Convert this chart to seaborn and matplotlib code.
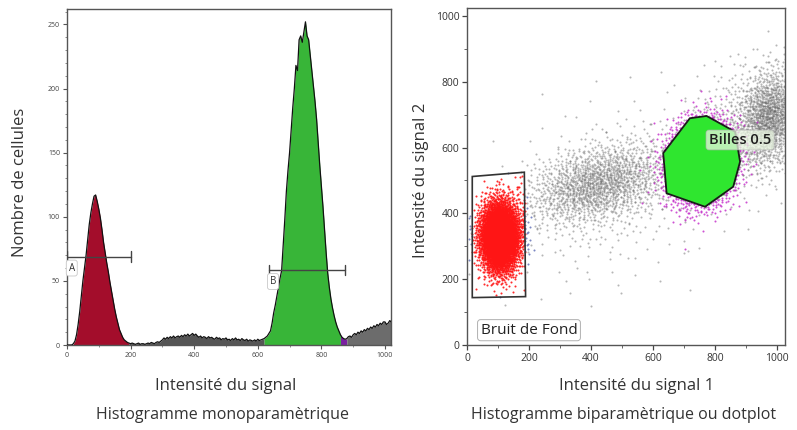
import numpy as np
import pandas as pd
import matplotlib
matplotlib.use("Agg")
import matplotlib.pyplot as plt
from matplotlib.patches import Polygon
from matplotlib.path import Path
from matplotlib.ticker import MultipleLocator
import seaborn as sns

# ---------------- data: histogram (left panel) ----------------
HIST_X = list(range(0, 1025, 5))
HIST_COUNTS = [
    # 0-195
    0, 0, 0, 0, 1, 3, 8, 16, 26, 38, 50, 60, 70, 82, 94, 103, 110, 116, 117, 112,
    106, 99, 90, 80, 72, 64, 57, 49, 42, 35, 28, 22, 17, 12, 9, 6, 4, 3, 2, 1.5,
    # 200-295
    1, 1.5, 1, 0.5, 1, 1.5, 0.5, 1, 1, 0.5, 1, 1.5, 1, 2, 1.5, 1, 2, 2.5, 2, 3,
    # 300-395
    4, 5.5, 4.5, 6, 5, 6.5, 5.5, 7, 5.5, 6.5, 7, 6, 7.5, 6.5, 8, 7, 8.5, 7, 8, 9,
    # 400-495
    7.5, 8.5, 7, 6, 7, 5.5, 6.5, 6, 5, 6.5, 5.5, 6, 5, 4.5, 6, 5, 5.5, 4, 5, 4.5,
    # 500-595
    5.5, 4, 4.5, 3.5, 5, 4, 5.5, 4, 4.5, 3.5, 5, 4, 3.5, 4.5, 3, 4, 3.5, 3, 4, 3,
    # 600-695
    4.5, 3.5, 4, 4.5, 5, 6, 7, 9, 11, 17, 25, 31, 38, 45, 52, 58, 78, 98, 120, 136,
    # 700-795
    150, 168, 185, 200, 218, 214, 238, 241, 236, 244, 252, 241, 238, 226, 214, 202, 190, 176, 158, 140,
    # 800-895
    124, 108, 90, 72, 56, 45, 36, 29, 23, 18, 14, 11, 8, 6, 5, 4.5, 5, 6.5, 7, 6,
    # 900-995
    8, 9, 8, 10, 9, 11, 10, 12, 11, 13, 12, 14, 13, 15, 14, 16, 15, 17, 16, 18,
    # 1000-1020
    18, 16, 17, 19, 18,
]
HIST_REGIONS = ["A", "bas", "B", "hors_B", "haut"]
HIST_REGION_LO = [20, 195, 620, 860, 880]
HIST_REGION_HI = [195, 620, 860, 880, 1020]
GATE_LABELS = ["A", "B"]
GATE_LO = [0, 636]
GATE_HI = [200, 874]
GATE_LEVEL = [69, 58.5]

# ---------------- data: dotplot (right panel) ----------------
POP_NAMES = ["bruit", "debris", "debris_diffus", "billes", "haut_droite", "intermediaire"]
POP_CX = [105, 420, 520, 755, 975, 860]
POP_CY = [330, 490, 470, 555, 690, 650]
POP_SX = [31, 115, 200, 52, 50, 90]
POP_SY = [52, 62, 150, 60, 75, 100]
POP_RHO = [0.0, 0.35, 0.4, 0.1, 0.2, 0.3]
POP_N = [5000, 1500, 300, 4000, 1300, 400]

GATE_BRUIT_X = [17, 185, 189, 17]
GATE_BRUIT_Y = [512, 525, 147, 144]
GATE_BILLES_X = [633, 719, 773, 865, 881, 859, 768, 644]
GATE_BILLES_Y = [583, 689, 696, 648, 557, 481, 420, 461]

# ---------------- style ----------------
sns.set_theme(style="ticks")
plt.rcParams["font.family"] = ["Open Sans", "DejaVu Sans"]
TXT = "#333333"

fig = plt.figure(figsize=(7.97, 4.30), dpi=100)
ax1 = fig.add_axes([67 / 797, 1 - 345 / 430, (391 - 67) / 797, (345 - 9) / 430])
ax2 = fig.add_axes([467 / 797, 1 - 345 / 430, (785 - 467) / 797, (345 - 8) / 430])

# ---------------- left: histogram ----------------
hx = np.array(HIST_X, dtype=float)
hc = np.array(HIST_COUNTS, dtype=float)
region_colors = {"A": "#a30d2b", "bas": "#555555", "B": "#38b538",
                 "hors_B": "#7a1fa0", "haut": "#6c6c6c"}
for name, lo, hi in zip(HIST_REGIONS, HIST_REGION_LO, HIST_REGION_HI):
    m = (hx >= lo) & (hx <= hi)
    ax1.fill_between(hx[m], 0, hc[m], color=region_colors[name], lw=0, zorder=2)
sns.lineplot(x=hx, y=hc, color="#111111", lw=0.9, ax=ax1, zorder=3)

for lab, lo, hi, lev in zip(GATE_LABELS, GATE_LO, GATE_HI, GATE_LEVEL):
    ax1.plot([lo, hi], [lev, lev], color="#444444", lw=1.0, zorder=4)
    ax1.plot([lo, lo], [lev - 4, lev + 4], color="#444444", lw=1.0, zorder=4)
    ax1.plot([hi, hi], [lev - 4, lev + 4], color="#444444", lw=1.0, zorder=4)
    ax1.text(lo + 12 if lo > 0 else 15, lev - 9, lab, fontsize=7, color="#333333",
             ha="center", va="center", zorder=5,
             bbox=dict(boxstyle="round,pad=0.25", fc="white", ec="#c8c8c8", lw=0.6))

ax1.set_xlim(0, 1019)
ax1.set_ylim(0, 262)
ax1.xaxis.set_major_locator(MultipleLocator(200))
ax1.xaxis.set_minor_locator(MultipleLocator(100))
ax1.yaxis.set_major_locator(MultipleLocator(50))
ax1.yaxis.set_minor_locator(MultipleLocator(10))
ax1.tick_params(axis="both", which="major", labelsize=5, length=3, width=0.8,
                colors="#555555", labelcolor="#444444", pad=2)
ax1.tick_params(axis="both", which="minor", length=1.5, width=0.6, colors="#777777")
ax1.set_xlabel("")
ax1.set_ylabel("")

# ---------------- right: dotplot ----------------
def halton(n, base, skip):
    out = np.empty(n)
    for i in range(n):
        k = i + skip + 1
        f = 1.0
        r = 0.0
        while k > 0:
            f /= base
            r += f * (k % base)
            k //= base
        out[i] = r
    return out

frames = []
skip = 17
for name, cx, cy, sx, sy, rho, n in zip(POP_NAMES, POP_CX, POP_CY, POP_SX, POP_SY, POP_RHO, POP_N):
    u1 = halton(n, 2, skip)
    u2 = halton(n, 3, skip)
    skip += n + 101
    rad = np.sqrt(-2 * np.log(u1))
    z1 = rad * np.cos(2 * np.pi * u2)
    z2 = rad * np.sin(2 * np.pi * u2)
    px = cx + sx * z1
    py = cy + sy * (rho * z1 + np.sqrt(1 - rho ** 2) * z2)
    frames.append(pd.DataFrame({"x": px, "y": py, "pop": name}))
df = pd.concat(frames, ignore_index=True)

path_billes = Path(np.column_stack([GATE_BILLES_X, GATE_BILLES_Y]))
path_bruit = Path(np.column_stack([GATE_BRUIT_X, GATE_BRUIT_Y]))
pts = df[["x", "y"]].to_numpy()
in_billes = path_billes.contains_points(pts)
in_bruit = path_bruit.contains_points(pts)
cls = np.where(in_billes, "vert",
      np.where(in_bruit, "rouge",
      np.where(df["pop"] == "billes", "magenta",
      np.where(df["pop"] == "bruit", "bleu", "gris"))))
df["cls"] = cls

ax2.add_patch(Polygon(np.column_stack([GATE_BILLES_X, GATE_BILLES_Y]), closed=True,
                      fc="#2fe62f", ec="none", zorder=1))
dot_colors = {"gris": "#5e5e5e", "magenta": "#c227c8", "bleu": "#4455aa",
              "vert": "#2fe62f", "rouge": "#ff1515"}
dot_alpha = {"gris": 0.45, "magenta": 0.8, "bleu": 0.7, "vert": 1.0, "rouge": 0.9}
for k in ["gris", "magenta", "bleu", "vert", "rouge"]:
    sub = df[df["cls"] == k]
    sns.scatterplot(data=sub, x="x", y="y", color=dot_colors[k], s=2.2,
                    linewidth=0, alpha=dot_alpha[k], ax=ax2, zorder=2)

ax2.add_patch(Polygon(np.column_stack([GATE_BILLES_X, GATE_BILLES_Y]), closed=True,
                      fill=False, ec="#1a1a1a", lw=1.3, zorder=4))
ax2.add_patch(Polygon(np.column_stack([GATE_BRUIT_X, GATE_BRUIT_Y]), closed=True,
                      fill=False, ec="#333333", lw=1.2, zorder=4))

ax2.text(200, 45, "Bruit de Fond", fontsize=11, color="#222222", ha="center", va="center",
         zorder=5, bbox=dict(boxstyle="round,pad=0.2", fc="white", ec="#b0b0b0", lw=0.7))
ax2.text(881, 623, "Billes 0.5", fontsize=10.5, fontweight="semibold", color="#1e1e1e",
         ha="center", va="center", zorder=5,
         bbox=dict(boxstyle="round,pad=0.2", fc="#e8f5e0", ec="#b0b0b0", lw=0.6, alpha=0.75))

ax2.set_xlim(0, 1026)
ax2.set_ylim(0, 1024)
ax2.xaxis.set_major_locator(MultipleLocator(200))
ax2.xaxis.set_minor_locator(MultipleLocator(100))
ax2.yaxis.set_major_locator(MultipleLocator(200))
ax2.yaxis.set_minor_locator(MultipleLocator(100))
ax2.tick_params(axis="both", which="major", labelsize=7.5, length=3.5, width=0.9,
                colors="#444444", labelcolor="#333333", pad=2)
ax2.tick_params(axis="both", which="minor", length=2, width=0.7, colors="#666666")
ax2.set_xlabel("")
ax2.set_ylabel("")

for ax in (ax1, ax2):
    for sp in ax.spines.values():
        sp.set_visible(True)
        sp.set_color("#555555")
        sp.set_linewidth(1.0)

# ---------------- texts ----------------
def fx(px):
    return px / 797

def fy(py):
    return 1 - py / 430

fig.text(fx(226), fy(386), "Intensité du signal", fontsize=12, color=TXT, ha="center", va="center")
fig.text(fx(222), fy(415), "Histogramme monoparamètrique", fontsize=11.5, color=TXT, ha="center", va="center")
fig.text(fx(20), fy(182), "Nombre de cellules", fontsize=12, color=TXT, ha="center", va="center", rotation=90)
fig.text(fx(637), fy(386), "Intensité du signal 1", fontsize=12, color=TXT, ha="center", va="center")
fig.text(fx(624), fy(415), "Histogramme biparamètrique ou dotplot", fontsize=11.5, color=TXT, ha="center", va="center")
fig.text(fx(421), fy(180), "Intensité du signal 2", fontsize=12, color=TXT, ha="center", va="center", rotation=90)

fig.savefig("out.png", dpi=100)
